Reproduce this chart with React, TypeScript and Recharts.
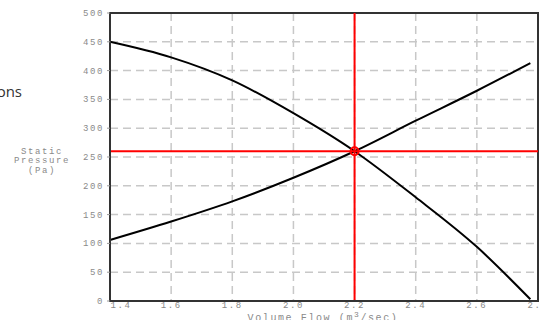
import {
  LineChart,
  Line,
  XAxis,
  YAxis,
  CartesianGrid,
  ReferenceLine,
  ReferenceDot,
  ReferenceArea,
} from 'recharts';

const flowTicks = [1.4, 1.6, 1.8, 2.0, 2.2, 2.4, 2.6, 2.8];
const pressureTicks = [0, 50, 100, 150, 200, 250, 300, 350, 400, 450, 500];

const fanFlow = [1.4, 1.6, 1.8, 2.0, 2.2, 2.4, 2.6, 2.775];
const fanPressure = [450, 423, 383, 326, 260, 180, 94, 3];

const systemFlow = [1.4, 1.6, 1.8, 2.0, 2.2, 2.4, 2.6, 2.775];
const systemPressure = [106, 138, 173, 214, 260, 313, 365, 413];

const operatingFlow = 2.2;
const operatingPressure = 260;

const fanData = fanFlow.map((q, i) => ({ q, p: fanPressure[i] }));
const systemData = systemFlow.map((q, i) => ({ q, p: systemPressure[i] }));

const MONO = '"Liberation Mono", "DejaVu Sans Mono", monospace';

const XTick = ({ x, y, payload, index }: any) => {
  return (
    <text
      x={x}
      y={y}
      dy={-1}
      dx={index === 0 ? 11 : 0}
      textAnchor="middle"
      fontFamily={MONO}
      fontSize={9}
      letterSpacing={1.6}
      fill="#8a8a8a"
    >
      {payload.value.toFixed(1)}
    </text>
  );
};

const YTick = ({ x, y, payload }: any) => {
  return (
    <text
      x={x - 1}
      y={y}
      dy={3}
      textAnchor="end"
      fontFamily={MONO}
      fontSize={9}
      letterSpacing={1.6}
      fill="#8a8a8a"
    >
      {payload.value}
    </text>
  );
};

const App = () => {
  return (
    <div style={{ position: 'relative', width: 540, height: 320, overflow: 'hidden', background: '#fff' }}>
      <style>{'body{margin:0}'}</style>
      <LineChart
        width={540}
        height={320}
        margin={{ top: 13, right: 2, left: 0, bottom: 0 }}
      >
        <CartesianGrid stroke="#c8c8c8" strokeWidth={1.5} strokeDasharray="8 5" />
        <XAxis
          type="number"
          dataKey="q"
          domain={[1.4, 2.8]}
          ticks={flowTicks}
          interval={0}
          height={19}
          tick={<XTick />}
          tickLine={false}
          axisLine={{ stroke: '#333', strokeWidth: 2 }}
          allowDuplicatedCategory={false}
        />
        <YAxis
          type="number"
          domain={[0, 500]}
          ticks={pressureTicks}
          interval={0}
          width={110}
          tick={<YTick />}
          tickSize={3}
          tickLine={{ stroke: '#999' }}
          axisLine={{ stroke: '#333', strokeWidth: 2 }}
        />
        <ReferenceArea
          x1={1.4}
          x2={2.8}
          y1={0}
          y2={500}
          fill="none"
          stroke="#333"
          strokeWidth={2}
        />
        <Line
          data={fanData}
          dataKey="p"
          type="monotone"
          stroke="#000"
          strokeWidth={2}
          dot={false}
          isAnimationActive={false}
        />
        <Line
          data={systemData}
          dataKey="p"
          type="monotone"
          stroke="#000"
          strokeWidth={2}
          dot={false}
          isAnimationActive={false}
        />
        <ReferenceLine x={operatingFlow} stroke="#ff0000" strokeWidth={2} />
        <ReferenceLine y={operatingPressure} stroke="#ff0000" strokeWidth={2} />
        <ReferenceDot
          x={operatingFlow}
          y={operatingPressure}
          r={4}
          fill="none"
          stroke="#ff0000"
          strokeWidth={2}
        />
      </LineChart>
      <svg width={540} height={320} style={{ position: 'absolute', left: 0, top: 0, pointerEvents: 'none' }}>
        <text x={22} y={97} textAnchor="end" fontFamily="'Open Sans', sans-serif" fontSize={15} fill="#333">
          ons
        </text>
        <g fontFamily={MONO} fontSize={9} letterSpacing={1.6} fill="#8a8a8a" textAnchor="middle">
          <text x={42} y={154}>Static</text>
          <text x={42} y={163}>Pressure</text>
          <text x={42} y={173}>(Pa)</text>
        </g>
        <text x={323} y={321} textAnchor="middle" fontFamily={MONO} fontSize={10} letterSpacing={1.6} fill="#8a8a8a">
          Volume Flow (m<tspan dy={-4} fontSize={8}>3</tspan><tspan dy={4}>/sec)</tspan>
        </text>
      </svg>
    </div>
  );
};

export default App;
